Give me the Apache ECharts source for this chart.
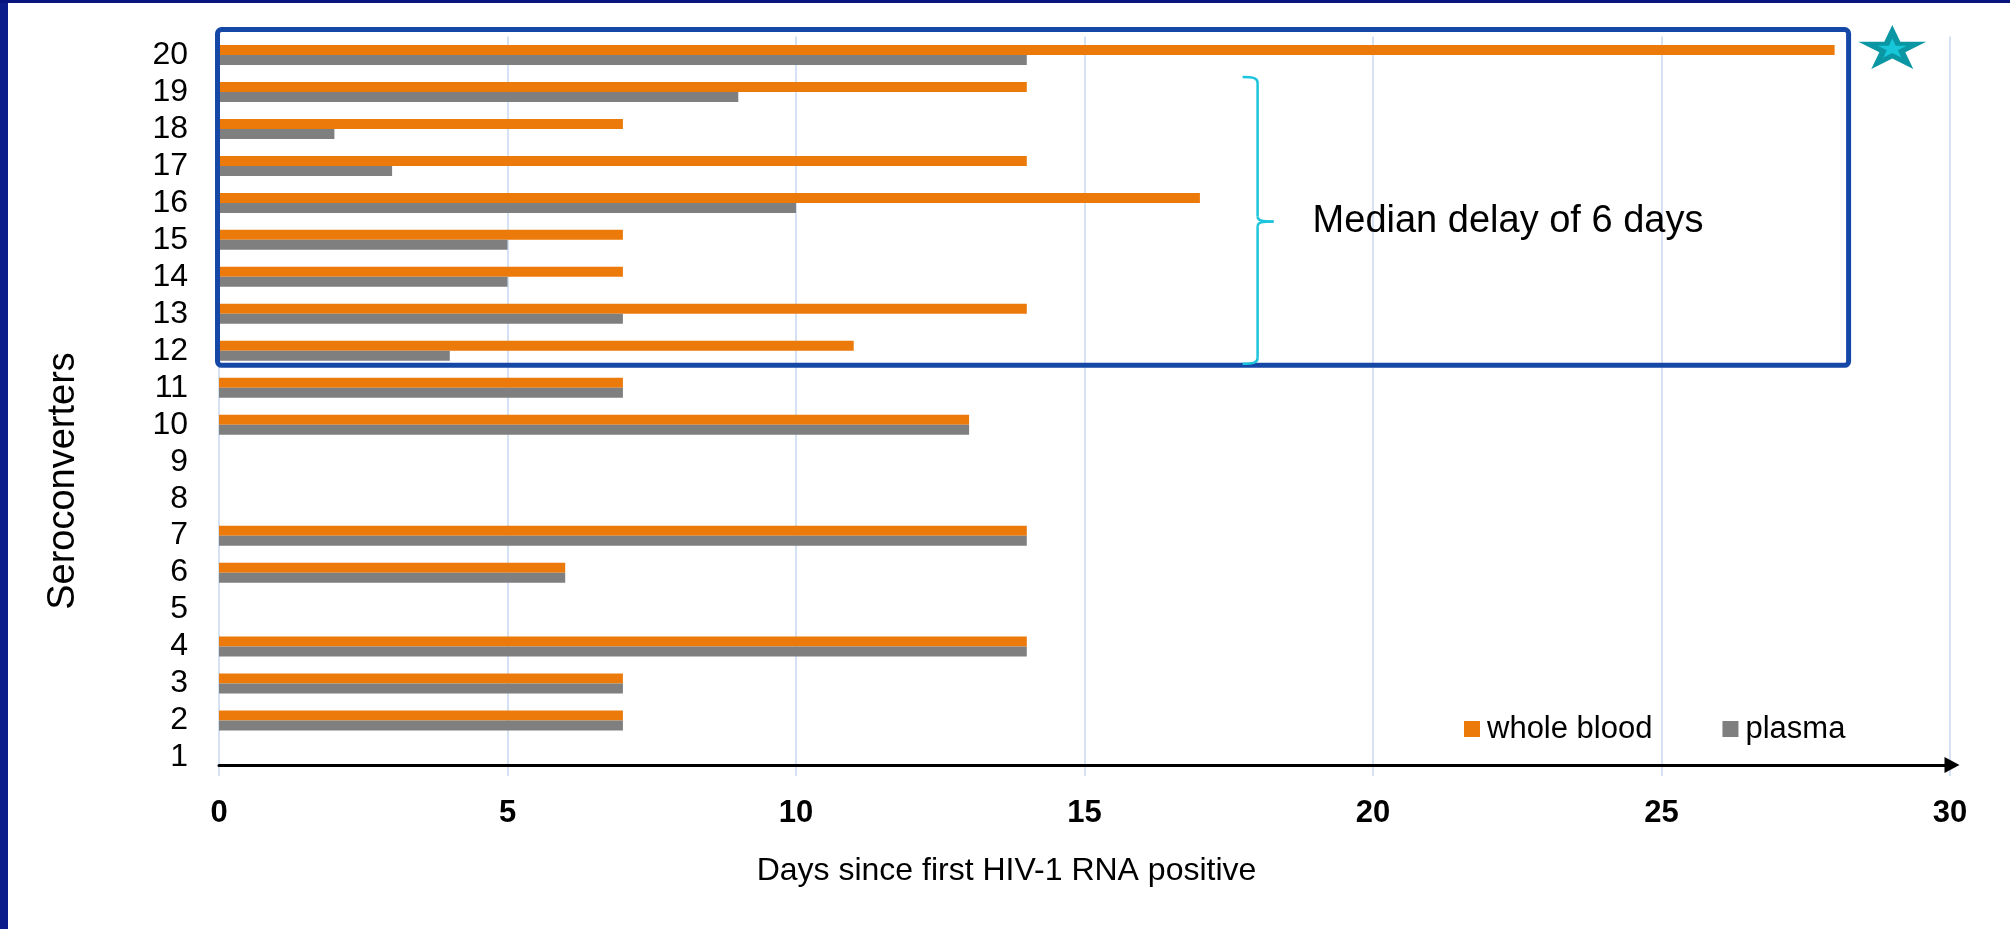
<!DOCTYPE html>
<html>
<head>
<meta charset="utf-8">
<title>Seroconverters: days since first HIV-1 RNA positive</title>
<script src="https://cdn.jsdelivr.net/npm/echarts@6/dist/echarts.min.js"></script>
<style>
  html, body { margin: 0; padding: 0; background: #ffffff; overflow: hidden; }
  #chart { position: absolute; left: 0; top: 0; width: 2010px; height: 929px; }
  .frame-left { position: absolute; left: 0; top: 0; width: 8px; height: 929px; background: #0b1d8a; }
  .frame-top { position: absolute; left: 0; top: 0; width: 2010px; height: 3px; background: #08157e; }
</style>
</head>
<body>
<div id="chart"></div>
<div class="frame-left"></div>
<div class="frame-top"></div>
<script>
// Seroconverter IDs (y categories, bottom to top)
const seroconverters = ['1', '2', '3', '4', '5', '6', '7', '8', '9', '10',
                        '11', '12', '13', '14', '15', '16', '17', '18', '19', '20'];

// Days since first HIV-1 RNA positive until antibody detection
const wholeBlood = [null, 7, 7, 14, null, 6, 14, null, null, 13, 7, 11, 14, 7, 7, 17, 14, 7, 14, 28];
const plasma     = [null, 7, 7, 14, null, 6, 14, null, null, 13, 7, 4, 7, 5, 5, 10, 3, 2, 9, 14];

// X axis ticks
const dayMin = 0;
const dayMax = 30;
const dayStep = 5;

// Annotation: group of delayed seroconverters and the median delay label
const boxedFirst = '12';
const boxedLast = '20';
const braceFirst = '19';
const braceLast = '12';
const medianText = 'Median delay of 6 days';
const starCategory = '20';
const starDay = 29;

const FONT = '"Liberation Sans", Arial, Helvetica, sans-serif';

// Five-pointed star outline as an SVG path (scaled by the symbol size)
function starPath() {
  const pts = [];
  for (let i = 0; i < 10; i++) {
    const r = i % 2 === 0 ? 1 : 0.382;
    const a = -Math.PI / 2 + i * Math.PI / 5;
    pts.push((r * Math.cos(a)).toFixed(4) + ',' + (r * Math.sin(a)).toFixed(4));
  }
  return 'path://M' + pts.join('L') + 'Z';
}
const STAR = starPath();

const chart = echarts.init(document.getElementById('chart'), null, { renderer: 'canvas' });

chart.setOption({
  animation: false,
  backgroundColor: '#ffffff',
  textStyle: { fontFamily: FONT },
  grid: { left: 219, right: 60, top: 36.5, bottom: 153, containLabel: false },
  legend: {
    data: ['whole blood', 'plasma'],
    left: 1464,
    top: 713,
    padding: 0,
    icon: 'rect',
    itemWidth: 16,
    itemHeight: 16,
    itemGap: 70,
    selectedMode: false,
    textStyle: { fontSize: 31, color: '#000', fontFamily: FONT, padding: [0, 0, 0, 2], lineHeight: 32 }
  },
  xAxis: {
    type: 'value',
    min: dayMin,
    max: dayMax,
    interval: dayStep,
    offset: -11,
    name: 'Days since first HIV-1 RNA positive',
    nameLocation: 'middle',
    nameGap: 90,
    nameTextStyle: { fontSize: 32, color: '#000', fontFamily: FONT, padding: [0, 156, 0, 0] },
    axisLine: {
      show: true,
      symbol: ['none', 'triangle'],
      symbolSize: [16, 15],
      symbolOffset: [0, 2],
      lineStyle: { color: '#000', width: 3 }
    },
    axisTick: { show: false },
    axisLabel: { fontSize: 31, fontWeight: 'bold', color: '#000', margin: 33, fontFamily: FONT },
    splitLine: { show: true, lineStyle: { color: '#d5e1f5', width: 2 } }
  },
  yAxis: {
    type: 'category',
    data: seroconverters,
    axisLine: { show: false },
    axisTick: { show: false },
    axisLabel: { fontSize: 32, color: '#000', margin: 31, interval: 0, fontFamily: FONT },
    splitLine: { show: false }
  },
  series: [
    {
      name: 'whole blood',
      type: 'bar',
      data: wholeBlood,
      barWidth: 10,
      barGap: '0%',
      silent: true,
      itemStyle: { color: '#ec7a0b' },
      markPoint: {
        silent: true,
        symbolKeepAspect: false,
        label: { show: false },
        data: [
          { coord: [starDay, starCategory], symbol: STAR, symbolSize: [68, 44], symbolOffset: [0, -3],
            itemStyle: { color: '#0a97a3' } },
          { coord: [starDay, starCategory], symbol: STAR, symbolSize: [29, 19], symbolOffset: [0, -2],
            itemStyle: { color: '#17c6d8' } }
        ]
      }
    },
    {
      name: 'plasma',
      type: 'bar',
      data: plasma,
      barWidth: 10,
      silent: true,
      itemStyle: { color: '#7f7f7f' }
    }
  ]
});

// Annotations positioned through the axes
const px = v => chart.convertToPixel({ xAxisIndex: 0 }, v);
const py = c => chart.convertToPixel({ yAxisIndex: 0 }, seroconverters.indexOf(c));

const maxBoxed = Math.max.apply(null, wholeBlood.slice(seroconverters.indexOf(boxedFirst)));
const boxLeft = px(0) - 1.5;
const boxRight = px(maxBoxed) + 14;
const boxTop = py(boxedLast) - 25.5;
const boxBottom = py(boxedFirst) + 14.5;

const bx = px(18);
const bTop = py(braceFirst) - 15;
const bBot = py(braceLast) + 13;
const bMid = (py('16') + py('15')) / 2;

const braceStyle = { fill: 'none', stroke: '#1cc4dc', lineWidth: 2.5 };
function curve(x1, y1, cx1, cy1, cx2, cy2, x2, y2) {
  return {
    type: 'bezierCurve', z: 50, silent: true,
    shape: { x1: x1, y1: y1, cpx1: cx1, cpy1: cy1, cpx2: cx2, cpy2: cy2, x2: x2, y2: y2 },
    style: braceStyle
  };
}
function segment(x1, y1, x2, y2) {
  return { type: 'line', z: 50, silent: true, shape: { x1: x1, y1: y1, x2: x2, y2: y2 }, style: braceStyle };
}

chart.setOption({
  graphic: [
    {
      type: 'rect',
      z: 50,
      silent: true,
      shape: { x: boxLeft, y: boxTop, width: boxRight - boxLeft, height: boxBottom - boxTop, r: 4 },
      style: { fill: 'none', stroke: '#1447a6', lineWidth: 5 }
    },
    // right curly brace
    curve(bx - 15, bTop, bx - 4, bTop, bx, bTop + 1, bx, bTop + 6),
    segment(bx, bTop + 6, bx, bMid - 5),
    curve(bx, bMid - 5, bx, bMid - 1, bx + 4, bMid, bx + 16, bMid),
    curve(bx + 16, bMid, bx + 4, bMid, bx, bMid + 1, bx, bMid + 5),
    segment(bx, bMid + 5, bx, bBot - 6),
    curve(bx, bBot - 6, bx, bBot - 1, bx - 4, bBot, bx - 15, bBot),
    {
      type: 'text',
      z: 50,
      silent: true,
      x: bx + 55,
      y: bMid,
      style: {
        text: medianText,
        font: '38px ' + FONT,
        fill: '#000',
        align: 'left', verticalAlign: 'middle',
        textAlign: 'left', textVerticalAlign: 'middle'
      }
    },
    {
      type: 'text',
      z: 50,
      silent: true,
      x: 64,
      y: 481,
      rotation: Math.PI / 2,
      style: {
        text: 'Seroconverters',
        font: '38px ' + FONT,
        fill: '#000',
        align: 'center', verticalAlign: 'middle',
        textAlign: 'center', textVerticalAlign: 'middle'
      }
    }
  ]
});
</script>
</body>
</html>
